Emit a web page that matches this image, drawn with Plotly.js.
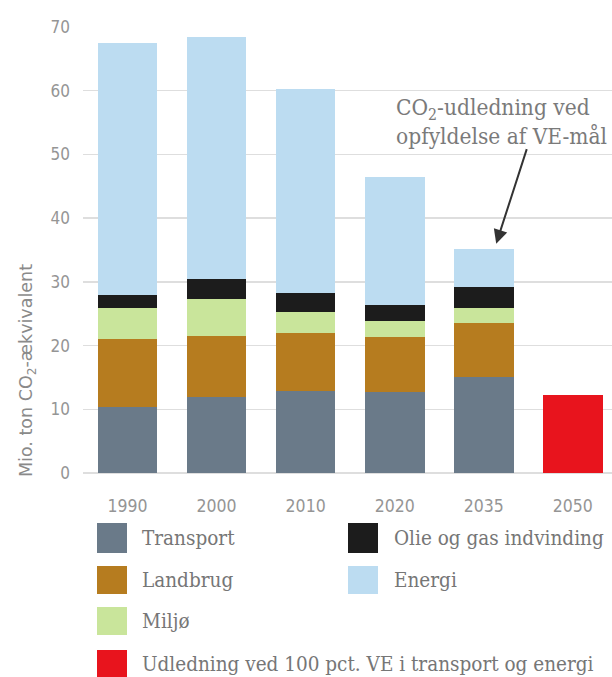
<!DOCTYPE html>
<html><head><meta charset="utf-8">
<script src="https://cdn.plot.ly/plotly-3.0.1.min.js"></script>
<style>html,body{margin:0;padding:0;background:#fff}#chart{width:612px;height:677px}</style>
</head><body><div id="chart"></div>
<script>
const years = ['1990','2000','2010','2020','2035','2050'];
const transport = [10.4, 12.0, 12.9, 12.7, 15.0, null];
const landbrug  = [10.6, 9.55, 9.0, 8.6, 8.5, null];
const miljo     = [4.95, 5.75, 3.4, 2.6, 2.45, null];
const olie      = [1.95, 3.1, 2.9, 2.4, 3.2, null];
const energi    = [39.6, 38.0, 32.0, 20.1, 5.95, null];
const ve100     = [null, null, null, null, null, 12.2];
const seriesNames = ['Transport','Landbrug','Miljø','Olie og gas indvinding','Energi','Udledning ved 100 pct. VE i transport og energi'];
const colors = ['#6a7a89','#b67c1f','#c9e59b','#1c1c1c','#bcdcf1','#e8141d'];
const yTicks = [0,10,20,30,40,50,60,70];

const L = 83, R = 612, T = 27, B = 473;
const px = x => (x - L) / (R - L);
const py = y => (B - y) / (B - T);

const data = [transport, landbrug, miljo, olie, energi, ve100].map((v, i) => ({
  type: 'bar', x: years, y: v, name: seriesNames[i],
  marker: {color: colors[i], line: {width: 0}}, hoverinfo: 'skip'
}));

const serif = "'DejaVu Serif Condensed', 'DejaVu Serif', serif";
const sans = "'DejaVu Sans Condensed', 'DejaVu Sans', sans-serif";
const legFont = {family: serif, size: 20.5, color: '#767676'};
const legItems = [
  {i: 0, sx: 97, y0: 523, y1: 553, tx: 140},
  {i: 1, sx: 97, y0: 566, y1: 594, tx: 140},
  {i: 2, sx: 97, y0: 607, y1: 635, tx: 140},
  {i: 5, sx: 97, y0: 650, y1: 677, tx: 140},
  {i: 3, sx: 348, y0: 523, y1: 553, tx: 392},
  {i: 4, sx: 348, y0: 566, y1: 594, tx: 392}
];
const shapes = legItems.map(it => ({
  type: 'rect', xref: 'paper', yref: 'paper',
  x0: px(it.sx), x1: px(it.sx + 30), y0: py(it.y1), y1: py(it.y0),
  fillcolor: colors[it.i], line: {width: 0}
}));
const annotations = legItems.map(it => ({
  xref: 'paper', yref: 'paper', x: px(it.tx), y: py((it.y0 + it.y1) / 2),
  xanchor: 'left', yanchor: 'middle', showarrow: false,
  text: seriesNames[it.i], font: legFont
}));
annotations.push({
  xref: 'paper', yref: 'paper', x: px(27), y: py(371), textangle: -90,
  xanchor: 'center', yanchor: 'middle', showarrow: false,
  text: 'Mio. ton CO<sub>2</sub>-ækvivalent',
  font: {family: "'DejaVu Sans', sans-serif", size: 17.5, color: '#8a8a8a'}
});
annotations.push({
  xref: 'paper', yref: 'paper', x: px(394), y: py(122),
  xanchor: 'left', yanchor: 'middle', showarrow: false, align: 'left',
  text: 'CO<sub>2</sub>-udledning ved<br>opfyldelse af VE-mål',
  font: {family: serif, size: 22.5, color: '#7a7a7a'}
});
annotations.push({
  x: 4.14, y: 36.0, xref: 'x', yref: 'y', text: '', showarrow: true,
  ax: 31, ay: -96, arrowhead: 2, arrowsize: 1.4, arrowwidth: 2, arrowcolor: '#333'
});

const layout = {
  width: 612, height: 677,
  margin: {l: L, r: 612 - R, t: T, b: 677 - B, pad: 0},
  paper_bgcolor: '#fff', plot_bgcolor: '#fff',
  barmode: 'stack', bargap: 0.33, showlegend: false,
  xaxis: {type: 'category', range: [-0.5, 5.44], showgrid: false, zeroline: false,
    showline: false, ticks: 'outside', ticklen: 17, tickcolor: 'rgba(0,0,0,0)',
    tickfont: {family: sans, size: 17.5, color: '#959595'}},
  yaxis: {range: [0, 70], tickvals: yTicks, showgrid: true, gridcolor: '#dedede', gridwidth: 1.5,
    zeroline: true, zerolinecolor: '#dedede', zerolinewidth: 1.5, showline: false, ticks: '',
    ticklabelstandoff: 12,
    tickfont: {family: sans, size: 17, color: '#959595'}},
  shapes: shapes, annotations: annotations
};
Plotly.newPlot('chart', data, layout, {displayModeBar: false, staticPlot: true});
</script></body></html>
